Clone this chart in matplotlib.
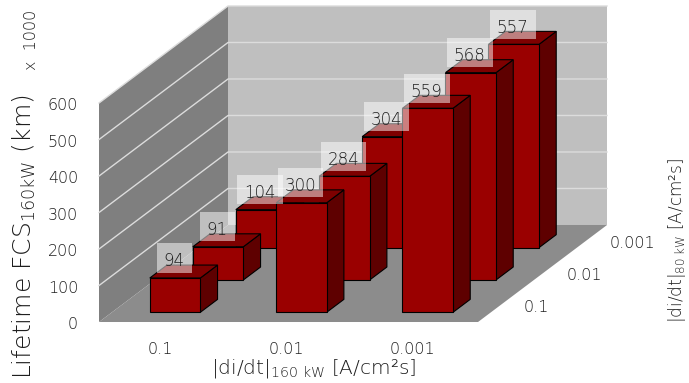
import matplotlib
matplotlib.use("Agg")
import matplotlib.pyplot as plt
from matplotlib.patches import Polygon, Rectangle
from matplotlib.transforms import IdentityTransform

plt.rcParams['font.family'] = ['DejaVu Sans']
plt.rcParams['font.weight'] = 200
plt.rcParams['mathtext.fontset'] = 'custom'
plt.rcParams['mathtext.rm'] = 'DejaVu Sans:weight=200'
plt.rcParams['mathtext.default'] = 'rm'

# Lifetime values (x 1000 km); rows follow the depth axis |di/dt| at 80 kW
x_labels = ["0.1", "0.01", "0.001"]          # |di/dt| 160 kW (columns)
depth_labels = ["0.1", "0.01", "0.001"]      # |di/dt| 80 kW (front -> back)
lifetime = [
    [94, 300, 559],    # 80 kW = 0.1
    [91, 284, 568],    # 80 kW = 0.01
    [104, 304, 557],   # 80 kW = 0.001
]
y_ticks = [0, 100, 200, 300, 400, 500, 600]

# oblique projection: one depth unit shifts right/up in data units
KX, KZ = 0.3404, 88.6
BAR_W, BAR_D = 0.4, 0.4
ZMAX = 600
TXT = "#1e1e1e"
DPI = 100


def proj(x, d, z):
    return (x + d * KX, z + d * KZ)


def quad(pts, **kw):
    return Polygon([proj(*p) for p in pts], closed=True, **kw)


fig = plt.figure(figsize=(6.89, 3.83), dpi=DPI)
ax = fig.add_axes([0, 0, 1, 1])
ax.set_xlim(-0.7837, 4.670)
ax.set_ylim(-167.1, 882.2)
ax.axis("off")

ncol, nrow = len(x_labels), len(depth_labels)

# walls and floor
ax.add_patch(quad([(0, 0, 0), (0, nrow, 0), (0, nrow, ZMAX), (0, 0, ZMAX)],
                  facecolor="#7f7f7f", edgecolor="none", zorder=1))
ax.add_patch(quad([(0, nrow, 0), (ncol, nrow, 0), (ncol, nrow, ZMAX), (0, nrow, ZMAX)],
                  facecolor="#bfbfbf", edgecolor="none", zorder=1))
ax.add_patch(quad([(0, 0, 0), (ncol, 0, 0), (ncol, nrow, 0), (0, nrow, 0)],
                  facecolor="#8c8c8c", edgecolor="none", zorder=1))

# gridlines on the side and back walls
for v in y_ticks[1:]:
    xs, zs = zip(proj(0, 0, v), proj(0, nrow, v), proj(ncol, nrow, v))
    ax.plot(xs, zs, color="#dcdcdc", lw=1.0, zorder=2)

# bars, back rows first
ec = dict(edgecolor="black", linewidth=0.8, joinstyle="miter")
z = 3
for j in reversed(range(nrow)):
    d0, d1 = j + 0.5 - BAR_D / 2, j + 0.5 + BAR_D / 2
    for i in range(ncol):
        v = lifetime[j][i]
        x0, x1 = i + 0.5 - BAR_W / 2, i + 0.5 + BAR_W / 2
        ax.add_patch(quad([(x1, d0, 0), (x1, d1, 0), (x1, d1, v), (x1, d0, v)],
                          facecolor="#5e0000", zorder=z, **ec))
        ax.add_patch(quad([(x0, d0, v), (x1, d0, v), (x1, d1, v), (x0, d1, v)],
                          facecolor="#7e0000", zorder=z, **ec))
        ax.add_patch(quad([(x0, d0, 0), (x1, d0, 0), (x1, d0, v), (x0, d0, v)],
                          facecolor="#9a0000", zorder=z, **ec))
        z += 1

# value labels on translucent boxes
LBL_SIZE = 12
labels = []
k = 0
for j in reversed(range(nrow)):
    d0 = j + 0.5 - BAR_D / 2
    for i in range(ncol):
        v = lifetime[j][i]
        t = ax.annotate(f"{v}", xy=proj(i + 0.5, d0, v), xytext=(-0.7, 8.3),
                        textcoords="offset points", ha="center", va="baseline",
                        fontsize=LBL_SIZE, color=TXT, zorder=60 + 2 * k + 1)
        labels.append(t)
        k += 1

fig.canvas.draw()
renderer = fig.canvas.get_renderer()
em = LBL_SIZE * DPI / 72
for t in labels:
    bb = t.get_window_extent(renderer)
    base = bb.y0 + 0.236 * em          # baseline of the digits
    digit_h = 0.729 * em
    rect = Rectangle((bb.x0 - 7, base - 6), bb.width + 14, digit_h + 17,
                     transform=IdentityTransform(), facecolor="white",
                     edgecolor="none", alpha=0.5, zorder=t.get_zorder() - 1)
    ax.add_artist(rect)

# vertical axis ticks
for v in y_ticks:
    ax.annotate(f"{v}", xy=proj(0, 0, v), xytext=(-15, -2),
                textcoords="offset points", ha="right", va="center",
                fontsize=11.5, color=TXT)

# column categories
for i, lab in enumerate(x_labels):
    ax.annotate(lab, xy=proj(i + 0.5, 0, 0), xytext=(-1.4, -20),
                textcoords="offset points", ha="center", va="center",
                fontsize=11.5, color=TXT)

# depth categories
for j, lab in enumerate(depth_labels):
    ax.annotate(lab, xy=proj(ncol, j + 0.5, 0), xytext=(17, -1.5),
                textcoords="offset points", ha="left", va="center",
                fontsize=11.5, color=TXT)

# axis titles
fig.text(314 / 689, 1 - 369 / 383, r"|di/dt|$_{160\ kW}$ [A/cm²s]",
         ha="center", va="center", fontsize=14.5, color=TXT)
fig.text(677 / 689, 1 - 241 / 383, r"|di/dt|$_{80\ kW}$ [A/cm²s]",
         ha="center", va="center", rotation=90, fontsize=12.2, color=TXT)
fig.text(24 / 689, 1 - 237 / 383, r"Lifetime FCS$_{160kW}$ (km)",
         ha="center", va="center", rotation=90, fontsize=18, color=TXT)
fig.text(31 / 689, 1 - 40 / 383, "x  1000",
         ha="center", va="center", rotation=90, fontsize=11.5, color=TXT)

fig.savefig("out.png", dpi=DPI)
